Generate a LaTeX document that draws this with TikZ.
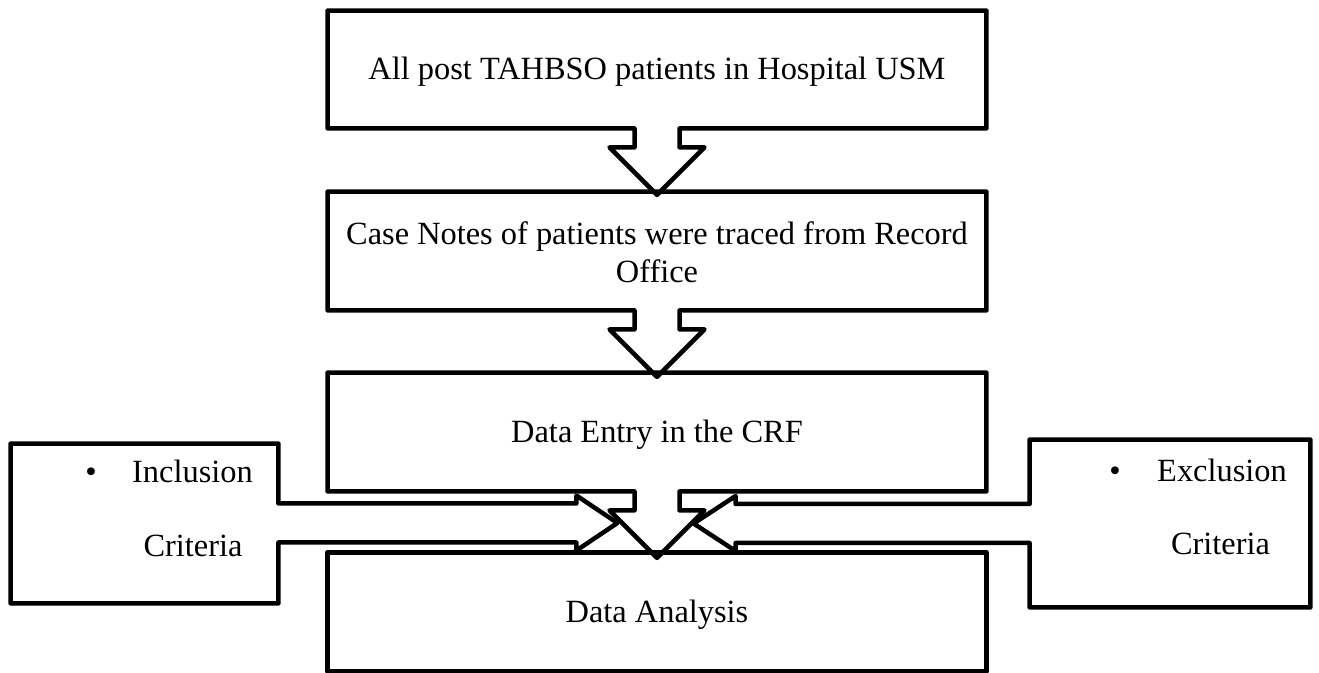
\documentclass[tikz,border=0pt]{standalone}
\usepackage{fontspec}
\setmainfont{Liberation Serif}
\usetikzlibrary{calc}
% box outline joined to a downward block arrow below it
\newcommand\downcallout[1]{%
  \draw[outline] ($(#1.south)+(22.5,0)$) -- (#1.south east) -- (#1.north east)
    -- (#1.north west) -- (#1.south west) -- ($(#1.south)+(-22.5,0)$)
    -- ++(0,19) -- ++(-25,0) -- ++(47.5,47.5) -- ++(47.5,-47.5) -- ++(-25,0) -- cycle;}
\begin{document}
\begin{tikzpicture}[x=0.5pt, y=-0.5pt,
  frame/.style={rectangle, inner sep=0pt, minimum width=329pt},
  txt/.style={inner sep=0pt, anchor=base, font=\fontsize{16.2}{19}\selectfont},
  outline/.style={draw=black, line width=2.25pt, line join=round}]
\useasboundingbox (0,0) rectangle (1319,673);

% main column of boxes
\node[frame, minimum height=58.5pt] (b1) at (657,69.5) {};
\node[frame, minimum height=59pt] (b2) at (657,251) {};
\node[frame, minimum height=59pt] (b3) at (657,432) {};
\node[frame, minimum height=59pt] (b4) at (657,612) {};

% side boxes
\node[rectangle, inner sep=0pt, minimum width=133.5pt, minimum height=79.5pt] (inc) at (144.5,523.5) {};
\node[rectangle, inner sep=0pt, minimum width=140pt, minimum height=83.5pt] (exc) at (1170,523.5) {};

% texts
\node[txt] (t1) at (657,80) {All post TAHBSO patients in Hospital USM};
\node[txt] (t2a) at (657,245) {Case Notes of patients were traced from Record};
\node[txt] (t2b) at (657,283) {Office};
\node[txt] (t3) at (657,442.5) {Data Entry in the CRF};
\node[txt] (t4) at (657,622.5) {Data Analysis};

\node[txt] (incb) at (91,483) {•};
\node[txt] (inc1) at (192.5,483) {Inclusion};
\node[txt] (inc2) at (193,557) {Criteria};
\node[txt] (excb) at (1115,482) {•};
\node[txt] (exc1) at (1222,482) {Exclusion};
\node[txt] (exc2) at (1220.5,555) {Criteria};

% outlines with block arrows
\downcallout{b1}
\downcallout{b2}
\downcallout{b3}
\draw[outline] (b4.north west) rectangle (b4.south east);

\draw[outline] ($(inc.east)+(0,-20)$) -- (inc.north east) -- (inc.north west)
  -- (inc.south west) -- (inc.south east) -- ($(inc.east)+(0,19)$)
  -- ++(298,0) -- ++(0,8) -- ++(41,-27.5) -- ++(-41,-27.5) -- ++(0,8) -- cycle;

\draw[outline] ($(exc.west)+(0,-19.5)$) -- (exc.north west) -- (exc.north east)
  -- (exc.south east) -- (exc.south west) -- ($(exc.west)+(0,19.5)$)
  -- ++(-294,0) -- ++(0,8) -- ++(-42,-27.5) -- ++(42,-27.5) -- ++(0,8) -- cycle;
\end{tikzpicture}
\end{document}
